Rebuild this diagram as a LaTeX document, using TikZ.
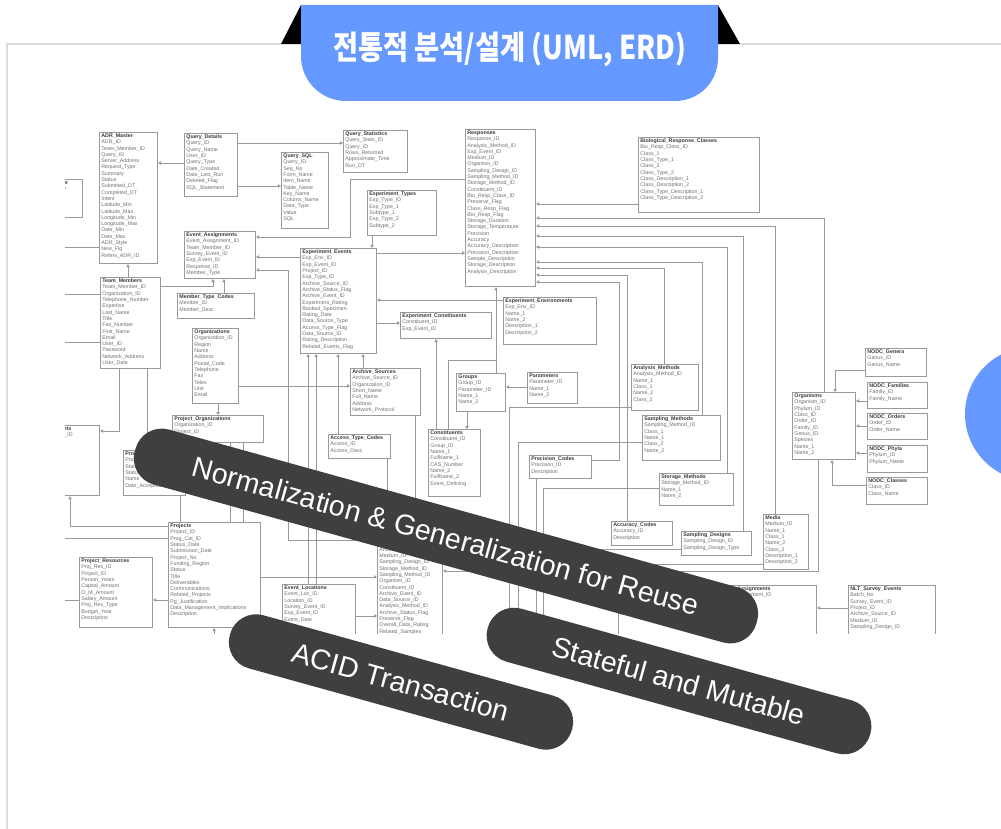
\documentclass[tikz,border=0pt]{standalone}
\usepackage{fontspec}
\usepackage{graphicx}
\setmainfont{Liberation Sans}
\newfontfamily\krfont{Noto Sans CJK KR}
\usetikzlibrary{arrows.meta}
\definecolor{tabblue}{HTML}{6699FF}
\definecolor{pilldark}{HTML}{3F3F3F}
\definecolor{erdline}{HTML}{9A9A9A}
\definecolor{erdtext}{HTML}{707070}
\definecolor{erdtitle}{HTML}{3A3A3A}
\definecolor{panelline}{HTML}{DDDDDD}
\newcommand\erd[7]{%
  \node[ebox, minimum width=#4pt, minimum height=#5pt] (#1) at (#2,#3) {};
  \node[etext] (#1txt) at ([xshift=2.2pt,yshift=-1.6pt]#1.north west) {\textcolor{erdtitle}{\bfseries #6}\\#7};
}
\catcode`\_=12
\begin{document}
\begin{tikzpicture}[x=1pt,y=-1pt,
  ebox/.style={draw=erdline, line width=1.1pt, fill=white, inner sep=0pt, anchor=north west},
  etext/.style={anchor=north west, inner sep=0pt, align=left, font=\fontsize{5.3}{6.3}\selectfont, text=erdtext},
  econ/.style={draw=erdline, line width=0.9pt},
  earr/.style={econ, -{Triangle[length=3pt,width=3.4pt]}},
  pill/.style={fill=pilldark, rounded corners=27pt, inner sep=0pt, text=white, font=\fontsize{28.5}{28.5}\selectfont},
]
\useasboundingbox (0,0) rectangle (1001,829);
\fill[white] (0,0) rectangle (1001,829);
\draw[panelline, line width=1.5pt] (1001,44) -- (7,44) -- (7,829);

% ---------------- ERD ----------------
\begin{scope}
\clip (65,122) rectangle (940,633);
\erd{ADRM}{99}{132}{58}{131}{ADR_Master}{ADR_ID\\Team_Member_ID\\Query_ID\\Server_Address\\Request_Type\\Summary\\Status\\Submitted_DT\\Completed_DT\\Intent\\Latitude_Min\\Latitude_Max\\Longitude_Min\\Longitude_Max\\Date_Min\\Date_Max\\ADR_Style\\New_Flg\\Refers_ADR_ID}
\erd{LCUTA}{42}{179}{40}{38}{Classifier}{Class_ID\\Name}
\erd{QD}{184}{133}{53}{63}{Query_Details}{Query_ID\\Query_Name\\User_ID\\Query_Type\\Date_Created\\Date_Last_Run\\Deleted_Flag\\SQL_Statement}
\erd{QSQL}{281}{152}{47}{76}{Query_SQL}{Query_ID\\Seq_No\\Form_Name\\Item_Name\\Table_Name\\Key_Name\\Column_Name\\Data_Type\\Value\\SQL}
\erd{QST}{343}{130}{64}{42}{Query_Statistics}{Query_Stats_ID\\Query_ID\\Rows_Returned\\Approximate_Time\\Run_DT}
\erd{EA}{184}{231}{71}{47}{Event_Assignments}{Event_Assignment_ID\\Team_Member_ID\\Survey_Event_ID\\Exp_Event_ID\\Response_ID\\Member_Type}
\erd{MTC}{177}{293}{77}{25}{Member_Type_Codes}{Member_ID\\Member_Desc}
\erd{TM}{100}{277}{60}{91}{Team_Members}{Team_Member_ID\\Organization_ID\\Telephone_Number\\Expertise\\Last_Name\\Title\\Fax_Number\\First_Name\\Email\\User_ID\\Password\\Network_Address\\User_Date}
\erd{ORG}{192}{328}{46}{75}{Organizations}{Organization_ID\\Region\\Name\\Address\\Postal_Code\\Telephone\\Fax\\Telex\\Unit\\Email}
\erd{EE}{300}{248}{76}{105}{Experiment_Events}{Exp_Env_ID\\Exp_Event_ID\\Project_ID\\Exp_Type_ID\\Archive_Source_ID\\Archive_Status_Flag\\Archive_Event_ID\\Experiment_Rating\\Banked_Specimen\\Rating_Date\\Data_Source_Type\\Access_Type_Flag\\Data_Source_ID\\Rating_Description\\Related_Events_Flag}
\erd{ET}{367}{190}{69}{45}{Experiment_Types}{Exp_Type_ID\\Exp_Type_1\\Subtype_1\\Exp_Type_2\\Subtype_2}
\erd{RESP}{465}{129}{70}{157}{Responses}{Response_ID\\Analysis_Method_ID\\Exp_Event_ID\\Medium_ID\\Organism_ID\\Sampling_Design_ID\\Sampling_Method_ID\\Storage_Method_ID\\Constituent_ID\\Bio_Resp_Class_ID\\Preserve_Flag\\Class_Resp_Flag\\Bio_Resp_Flag\\Storage_Duration\\Storage_Temperature\\Precision\\Accuracy\\Accuracy_Description\\Precision_Description\\Sample_Description\\Storage_Description\\Analysis_Description}
\erd{BRC}{638}{137}{121}{75}{Biological_Response_Classes}{Bio_Resp_Class_ID\\Class_1\\Class_Type_1\\Class_2\\Class_Type_2\\Class_Description_1\\Class_Description_2\\Class_Type_Description_1\\Class_Type_Description_2}
\erd{EENV}{503}{297}{93}{47}{Experiment_Environments}{Exp_Env_ID\\Name_1\\Name_2\\Description_1\\Description_2}
\erd{ECON}{400}{312}{91}{26}{Experiment_Constituents}{Constituent_ID\\Exp_Event_ID}
\erd{ARCH}{350}{368}{70}{47}{Archive_Sources}{Archive_Source_ID\\Organization_ID\\Short_Name\\Full_Name\\Address\\Network_Protocol}
\erd{ATC}{328}{434}{62}{24}{Access_Type_Codes}{Access_ID\\Access_Desc}
\erd{PORG}{172}{415}{91}{27}{Project_Organizations}{Organization_ID\\Project_ID}
\erd{LCUTB}{15}{425}{84}{70}{Survey_Assignments}{Survey_Assignment_ID\\Survey_Event_ID\\Team_Member_ID\\Assigned_Date\\\\Assignment_Type\\Comment_1\\Comment_2\\Status}
\erd{HIDA}{123}{450}{62}{45}{Project_Status}{Project_ID\\Status_ID\\Status_Date\\Name\\Date_Accepted}
\erd{PROJ}{168}{522}{92}{105}{Projects}{Project_ID\\Prog_Cat_ID\\Status_Date\\Submission_Date\\Project_No\\Funding_Region\\Status\\Title\\Deliverables\\Communications\\Related_Projects\\Pg_Justification\\Data_Management_Implications\\Description}
\erd{PRES}{79}{557}{73}{70}{Project_Resources}{Proj_Res_ID\\Project_ID\\Person_Years\\Capital_Amount\\O_M_Amount\\Salary_Amount\\Proj_Res_Type\\Budget_Year\\Description}
\erd{ELOC}{282}{584}{73}{60}{Event_Locations}{Event_Loc_ID\\Location_ID\\Survey_Event_ID\\Exp_Event_ID\\Event_Date}
\erd{SAMP}{377}{533}{65}{110}{Samples}{Sample_ID\\Archive_Source_ID\\Medium_ID\\Sampling_Design_ID\\Storage_Method_ID\\Sampling_Method_ID\\Organism_ID\\Constituent_ID\\Archive_Event_ID\\Data_Source_ID\\Analysis_Method_ID\\Archive_Status_Flag\\Preserve_Flag\\Overall_Data_Rating\\Related_Samples}
\erd{GRP}{456}{373}{49}{38}{Groups}{Group_ID\\Parameter_ID\\Name_1\\Name_2}
\erd{PARAM}{527}{372}{50}{31}{Parameters}{Parameter_ID\\Name_1\\Name_2}
\erd{CONST}{428}{429}{52}{67}{Constituents}{Constituent_ID\\Group_ID\\Name_1\\FullName_1\\CAS_Number\\Name_2\\FullName_2\\Event_Defining}
\erd{PREC}{529}{455}{62}{23}{Precision_Codes}{Precision_ID\\Description}
\erd{AM}{631}{364}{67}{46}{Analysis_Methods}{Analysis_Method_ID\\Name_1\\Class_1\\Name_2\\Class_2}
\erd{SM}{642}{415}{78}{45}{Sampling_Methods}{Sampling_Method_ID\\Class_1\\Name_1\\Class_2\\Name_2}
\erd{STM}{659}{473}{74}{32}{Storage_Methods}{Storage_Method_ID\\Name_1\\Name_2}
\erd{AC}{611}{521}{61}{24}{Accuracy_Codes}{Accuracy_ID\\Description}
\erd{SD}{681}{531}{70}{24}{Sampling_Designs}{Sampling_Design_ID\\Sampling_Design_Type}
\erd{MEDIA}{763}{514}{45}{55}{Media}{Medium_ID\\Name_1\\Class_1\\Name_2\\Class_2\\Description_1\\Description_2}
\erd{ORGN}{792}{392}{63}{67}{Organisms}{Organism_ID\\Phylum_ID\\Class_ID\\Order_ID\\Family_ID\\Genus_ID\\Species\\Name_1\\Name_2}
\erd{NG}{865}{348}{61}{28}{NODC_Genera}{Genus_ID\\Genus_Name}
\erd{NF}{867}{382}{60}{26}{NODC_Families}{Family_ID\\Family_Name}
\erd{NO}{867}{413}{60}{26}{NODC_Orders}{Order_ID\\Order_Name}
\erd{NP}{867}{445}{60}{27}{NODC_Phyla}{Phylum_ID\\Phylum_Name}
\erd{NC}{866}{477}{61}{27}{NODC_Classes}{Class_ID\\Class_Name}
\erd{OTH}{618}{585}{77}{55}{Survey_Samples}{Survey_Event_ID\\Medium_ID\\Storage_Method_ID\\Sampling_Design_ID}
\erd{SEA}{697}{585}{119}{55}{Survey_Event_Assignments}{Survey_Event_Assignment_ID\\Survey_Event_ID\\Team_Member_ID\\Member_Type}
\erd{NLT}{848}{585}{87}{55}{NLT_Survey_Events}{Batch_No\\Survey_Event_ID\\Project_ID\\Archive_Source_ID\\Medium_ID\\Sampling_Design_ID}

% free ends
\coordinate (L247) at (60,247);
\coordinate (L294) at (60,294);
\coordinate (L342) at (60,342);
\coordinate (L538) at (60,538);
\coordinate (L600) at (60,600);
\coordinate (B509) at (509,645);
\coordinate (B518) at (518,645);
\coordinate (B536) at (536,645);
\coordinate (B543) at (543,645);
\coordinate (B214) at (214,645);

% connectors
\draw[earr] (QD.west|-0,163) -- (ADRM.east|-0,163);
\draw[earr] (QD.east|-0,143) -- (QST.west|-0,143);
\draw[earr] (QD.east|-0,186) -- (QSQL.west|-0,186);
\draw[econ] (L247) -- (ADRM.west|-0,247);
\draw[earr] (TM.north-|128,0) -- (ADRM.south-|128,0);
\draw[econ] (L294) -- (TM.west|-0,294);
\draw[econ] (L342) -- (TM.west|-0,342);
\draw[earr] (TM.east|-0,286) -| (EA.south-|213,0);
\draw[earr] (MTC.north-|224,0) -- (EA.south-|224,0);
\draw[earr] (RESP.west|-0,179) -- (350,179) -- (350,237) -- (EA.east|-0,237);
\draw[earr] (EE.west|-0,257) -- (EA.east|-0,257);
\draw[earr] (SAMP.west|-0,540) -- (288,540) -- (288,270) -- (EA.east|-0,270);
\draw[earr] (ET.south-|372,0) -- (EE.north-|372,0);
\draw[earr] (EE.east|-0,253) -- (RESP.west|-0,253);
\draw[earr] (EENV.west|-0,300) -- (EE.east|-0,300);
\draw[earr] (EE.east|-0,323) -- (ECON.west|-0,323);
\draw[earr] (CONST.north-|436,0) -- (ECON.south-|436,0);
\draw[earr] (GRP.north-|496,0) -- (RESP.south-|496,0);
\draw[econ] (CONST.north-|448,0) -- (448,360) -- (496,360);
\draw[earr] (BRC.west|-0,204) -- (RESP.east|-0,204);
\draw[earr] (ORGN.north-|824,0) -- (824,218) -- (RESP.east|-0,218);
\draw[earr] (MEDIA.north-|775,0) -- (775,226) -- (RESP.east|-0,226);
\draw[earr] (SD.north-|743,0) -- (743,236) -- (RESP.east|-0,236);
\draw[earr] (STM.north-|727,0) -- (727,247) -- (RESP.east|-0,247);
\draw[earr] (SM.north-|702,0) -- (702,262) -- (RESP.east|-0,262);
\draw[earr] (AM.north-|664,0) -- (664,268) -- (RESP.east|-0,268);
\draw[earr] (AC.north-|627,0) -- (627,275) -- (RESP.east|-0,275);
\draw[earr] (PREC.east|-0,460) -- (619,460) -- (619,282) -- (RESP.east|-0,282);
\draw[earr] (PARAM.west|-0,387) -- (GRP.east|-0,387);
\draw[earr] (GRP.south-|467,0) -- (CONST.north-|467,0);
\draw[econ] (AM.west|-0,407) -| (B509);
\draw[econ] (SM.west|-0,442) -| (B518);
\draw[econ] (STM.west|-0,488) -| (B543);
\draw[econ] (PREC.south-|536,0) -- (B536);
\draw[earr] (NG.west|-0,370) -- (835,370) -- (ORGN.north-|835,0);
\draw[earr] (NF.west|-0,401) -- (ORGN.east|-0,401);
\draw[earr] (NO.west|-0,426) -- (ORGN.east|-0,426);
\draw[earr] (NP.west|-0,453) -- (ORGN.east|-0,453);
\draw[earr] (NC.west|-0,485) -- (832,485) -- (ORGN.south-|832,0);
\draw[earr] (ORGN.south-|818,0) -- (818,571) -- (SAMP.east|-0,571);
\draw[earr] (MEDIA.west|-0,564) -- (SAMP.east|-0,564);
\draw[earr] (SD.west|-0,549) -- (SAMP.east|-0,549);
\draw[earr] (TM.south-|119,0) -- (119,431) -- (LCUTB.east|-0,431);
\draw[econ] (TM.south-|147,0) -- (HIDA.north-|147,0);
\draw[earr] (ORG.south-|218,0) -- (PORG.north-|218,0);
\draw[earr] (ORG.east|-0,386) -- (ARCH.west|-0,386);
\draw[earr] (ARCH.north-|363,0) -- (EE.south-|363,0);
\draw[earr] (ATC.north-|338,0) -- (EE.south-|338,0);
\draw[earr] (ELOC.north-|316,0) -- (EE.south-|316,0);
\draw[earr] (ELOC.north-|308,0) -- (EE.south-|308,0);
\draw[econ] (ARCH.south-|415,0) -- (SAMP.north-|415,0);
\draw[econ] (ATC.south-|387,0) -- (SAMP.north-|387,0);
\draw[earr] (PROJ.east|-0,577) -- (SAMP.west|-0,577);
\draw[earr] (PROJ.west|-0,526) -- (70,526) -- (LCUTB.south-|70,0);
\draw[econ] (L538) -- (PROJ.west|-0,538);
\draw[earr] (PROJ.west|-0,600) -- (PRES.east|-0,600);
\draw[econ] (L600) -- (PRES.west|-0,600);
\draw[earr] (B214) -- (PROJ.south-|214,0);
\draw[econ] (PORG.south-|230,0) -- (PROJ.north-|230,0);
\draw[econ] (PORG.south-|243,0) -- (PROJ.north-|243,0);
\draw[econ] (HIDA.south-|180,0) -- (PROJ.north-|180,0);
\draw[earr] (ELOC.east|-0,616) -- (SAMP.west|-0,616);
\draw[earr] (NLT.west|-0,608) -- (SEA.east|-0,608);
\end{scope}

% ---------------- labels ----------------
\node[pill, minimum width=645pt, minimum height=57pt, rotate=-15.5] (p1) at (446,536) {Normalization \& Generalization for Reuse};
\node[pill, minimum width=355pt, minimum height=55pt, rotate=-15.5] (p2) at (401,682) {ACID Transaction};
\node[pill, minimum width=397pt, minimum height=55pt, rotate=-15.5] (p3) at (679,681) {Stateful and Mutable};

% ---------------- title tab ----------------
\fill[black] (281,44) -- (301,5) -- (301,44) -- cycle;
\fill[black] (718,5) -- (740,44) -- (718,44) -- cycle;
\fill[tabblue] (301,5) -- (718,5) -- (718,58) .. controls (718,82) and (699,101) .. (675,101) -- (346,101) .. controls (321,101) and (301,81) .. (301,56) -- cycle;
\node[anchor=north west, inner sep=0pt, text=white] (title) at (333,32) {\resizebox*{353pt}{35pt}{\krfont\bfseries 전통적 분석/설계 (UML, ERD)}};

\fill[tabblue] (1032,414) circle (67pt);
\end{tikzpicture}
\end{document}
